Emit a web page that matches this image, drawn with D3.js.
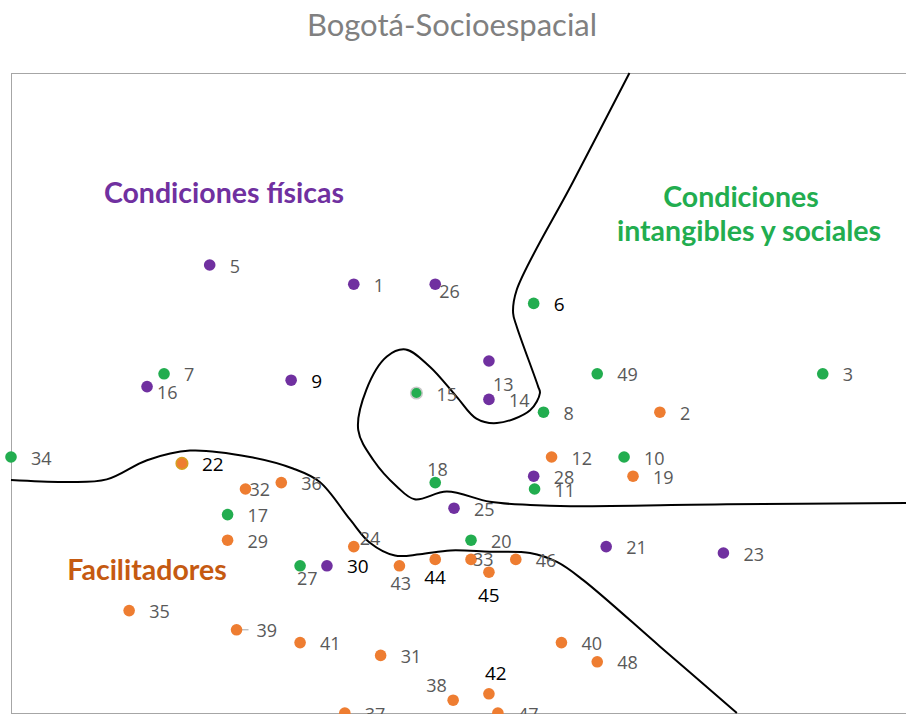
<!DOCTYPE html>
<html>
<head>
<meta charset="utf-8">
<script src="https://cdnjs.cloudflare.com/ajax/libs/d3/7.8.5/d3.min.js"></script>
<style>
  body { margin: 0; background: #fff; }
  svg { display: block; }
</style>
</head>
<body>
<div class="chart"></div>
<script>
// point numbers, positions on the map (0-100 on both axes) and group
const pointIds = [1, 2, 3, 5, 6, 7, 8, 9, 10, 11, 12, 13, 14, 15, 16, 17, 18, 19, 20, 21, 22, 23, 24, 25,
  26, 27, 28, 29, 30, 31, 32, 33, 34, 35, 36, 37, 38, 39, 40, 41, 42, 43, 44, 45, 46, 47, 48, 49];
const pointX = [38.3, 72.5, 90.7, 22.2, 58.4, 17.1, 59.5, 31.3, 68.5, 58.5, 60.4, 53.4, 53.4, 45.3, 15.2, 24.2,
  47.4, 69.5, 51.4, 66.5, 19.1, 79.6, 38.3, 49.5, 47.4, 32.3, 58.4, 24.2, 35.3, 41.3, 26.2, 51.4, 0.0, 13.2,
  30.2, 37.3, 49.4, 25.2, 61.5, 32.3, 53.4, 43.4, 47.4, 53.4, 56.4, 54.4, 65.5, 65.5];
const pointY = [67, 47, 53, 70, 64, 53, 47, 52, 40, 35, 40, 55, 49, 50, 51, 31, 36, 37, 27, 26, 39, 25, 26, 32,
  67, 23, 37, 27, 23, 9, 35, 24, 40, 16, 36, 0, 2, 13, 11, 11, 3, 23, 24, 22, 24, 0, 8, 53];
const pointGroup = ["f", "a", "i", "f", "i", "i", "i", "f", "i", "i", "a", "f", "f", "i", "f", "i", "i", "a", "i", "f",
  "a", "f", "a", "f", "f", "i", "f", "a", "f", "a", "a", "a", "i", "a", "a", "a", "a", "a", "a", "a", "a", "a", "a",
  "a", "a", "a", "a", "i"];
const darkLabels = [6, 9, 22, 30, 42, 44, 45];

// boundary lines drawn on the map
const boundaryUpper = [[69.1, 100], [62.8, 83.0], [56.5, 66.1], [56.1, 62.5], [56.5, 60.4], [58.9, 51.0],
  [59.1, 50.0], [58.0, 47.3], [54.3, 45.3], [52.0, 46.0], [49.8, 49.4], [46.8, 54.1], [44.1, 56.8],
  [42.0, 55.7], [39.7, 50.5], [38.8, 44.2], [40.5, 39.5], [43.1, 35.4], [45.1, 33.4], [48.7, 34.6],
  [53.5, 33.0], [58.0, 32.5], [62.5, 32.3], [80, 32.6], [100, 32.8]];
const boundaryLower = [[0.0, 36.4], [6.2, 36.1], [10.7, 36.5], [15.2, 39.5], [20.0, 41.0], [26.7, 40.0],
  [31.5, 38.2], [34.5, 36.1], [37.9, 30.2], [40.1, 26.6], [42.9, 24.6], [45.7, 24.8], [49.1, 25.4],
  [53.5, 25.2], [58.0, 25.0], [61.0, 23.6], [63.9, 20.8], [72.5, 10.4], [81.1, 0.0]];

const groupColor = { f: "#7030a0", i: "#22ad4f", a: "#ee7d31" };

const labelShift = {
  16: [10, 12.6], 26: [4, 14], 13: [4, 30], 18: [-8, -6.5], 32: [4, 7], 24: [6, -1.5],
  27: [-3, 19.5], 43: [-9, 24.5], 44: [-11, 25], 33: [2, 7], 45: [-11, 30], 42: [-4, -14], 38: [-27, -8.5]
};

const width = 906, height = 716;
const margin = { left: 11, right: 906, top: 73, bottom: 713 };

const svg = d3.select(".chart").append("svg")
  .attr("width", width)
  .attr("height", height);

svg.append("defs").append("clipPath")
  .attr("id", "clip")
  .append("rect")
  .attr("x", 0).attr("y", 0)
  .attr("width", width).attr("height", 714);

svg.append("text")
  .attr("x", 452)
  .attr("y", 36)
  .attr("text-anchor", "middle")
  .style("font-family", "Lato, 'Open Sans', sans-serif")
  .style("font-size", "31px")
  .style("fill", "#808080")
  .text("Bogotá-Socioespacial");

svg.append("rect")
  .attr("x", margin.left + 0.5)
  .attr("y", margin.top + 0.5)
  .attr("width", margin.right - margin.left + 10)
  .attr("height", margin.bottom - margin.top)
  .attr("fill", "none")
  .attr("stroke", "#a6a6a6");

var x = d3.scaleLinear().domain([0, 100]).range([margin.left, margin.right]);
var y = d3.scaleLinear().domain([0, 100]).range([margin.bottom, margin.top]);

var plot = svg.append("g").attr("clip-path", "url(#clip)");

var line = d3.line()
  .x(d => x(d[0]))
  .y(d => y(d[1]))
  .curve(d3.curveCatmullRom.alpha(0.5));

[boundaryUpper, boundaryLower].forEach(b => {
  plot.append("path")
    .datum(b)
    .attr("fill", "none")
    .attr("stroke", "#000")
    .attr("stroke-width", 2)
    .attr("d", line);
});

var points = pointIds.map((id, i) => ({
  id: id, x: pointX[i], y: pointY[i], group: pointGroup[i]
}));

// small leader line on point 39
var p39 = points.find(d => d.id == 39);
plot.append("line")
  .attr("x1", x(p39.x)).attr("y1", y(p39.y))
  .attr("x2", x(p39.x) + 12).attr("y2", y(p39.y))
  .attr("stroke", "#a6a6a6")
  .attr("stroke-width", 1);

plot.selectAll("circle")
  .data(points)
  .enter()
  .append("circle")
  .attr("cx", d => x(d.x))
  .attr("cy", d => y(d.y))
  .attr("r", 5.8)
  .attr("fill", d => groupColor[d.group])
  .attr("stroke", d => d.id == 15 ? "#c8c8c8" : d.id == 22 ? "#d4a020" : "none")
  .attr("stroke-width", 1.5);

plot.selectAll(".lbl")
  .data(points)
  .enter()
  .append("text")
  .attr("class", "lbl")
  .attr("x", d => x(d.x) + (labelShift[d.id] ? labelShift[d.id][0] : 20))
  .attr("y", d => y(d.y) + (labelShift[d.id] ? labelShift[d.id][1] : 7.5))
  .style("font-family", "'Open Sans', sans-serif")
  .style("font-size", d => darkLabels.includes(d.id) ? "19px" : "18px")
  .style("fill", d => darkLabels.includes(d.id) ? "#000" : "#595959")
  .text(d => d.id);

var regionFont = "Lato, 'Open Sans', sans-serif";
var regions = [
  { text: "Condiciones físicas", x: 224, y: 203, color: "#7030a0" },
  { text: "Condiciones", x: 741, y: 207, color: "#22ad4f" },
  { text: "intangibles y sociales", x: 749, y: 241, color: "#22ad4f" },
  { text: "Facilitadores", x: 147, y: 580, color: "#c55a11" }
];
svg.selectAll(".region")
  .data(regions)
  .enter()
  .append("text")
  .attr("class", "region")
  .attr("x", d => d.x)
  .attr("y", d => d.y)
  .attr("text-anchor", "middle")
  .style("font-family", regionFont)
  .style("font-size", "28.5px")
  .style("font-weight", "bold")
  .style("fill", d => d.color)
  .text(d => d.text);
</script>
</body>
</html>
